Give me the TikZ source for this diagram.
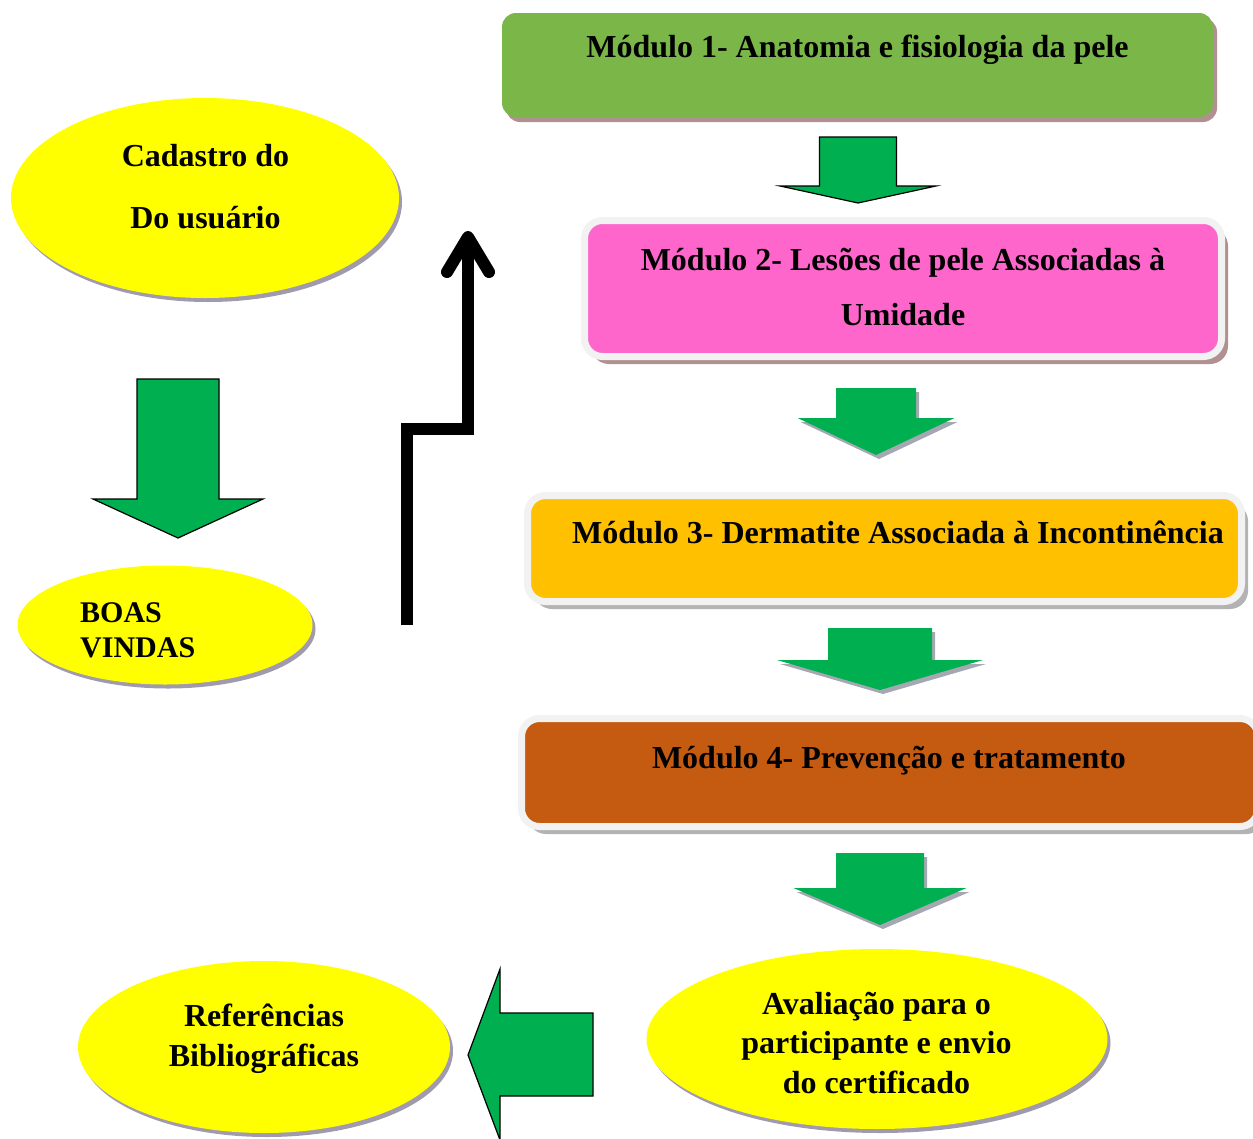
\documentclass[tikz,border=0pt]{standalone}
\usepackage{fontspec}
\setmainfont{Liberation Serif}
\usetikzlibrary{shapes.geometric,shadows}
\definecolor{gmod}{HTML}{7AB648}
\definecolor{pmod}{HTML}{FF66CC}
\definecolor{omod}{HTML}{FFC000}
\definecolor{bmod}{HTML}{C55A11}
\definecolor{agreen}{HTML}{00B050}
\definecolor{yel}{HTML}{FFFF00}
\definecolor{frameC}{HTML}{F2F2F2}
\definecolor{shpink}{HTML}{B09090}
\definecolor{shgray}{HTML}{B3B3B3}
\definecolor{shell}{HTML}{A09AAE}
\definecolor{arrsh}{HTML}{A5A8B2}
\newcommand\blkdown[7]{\path[#1] (#2-#3,#4) -- (#2+#3,#4) -- (#2+#3,#5) -- (#2+#6,#5) -- (#2,#7) -- (#2-#6,#5) -- (#2-#3,#5) -- cycle;}
\tikzset{
  lbl/.style={font=\bfseries\fontsize{32}{40}\selectfont, inner sep=0pt, text=black},
  mbox/.style={rectangle, inner sep=0pt, rounded corners=14pt, draw=none,
    drop shadow={shadow xshift=4pt, shadow yshift=-5pt, fill=shpink, opacity=1}},
  fbox/.style={rectangle, inner sep=0pt, rounded corners=18pt, draw=frameC, line width=7pt,
    drop shadow={shadow xshift=6.5pt, shadow yshift=-7.5pt, fill=#1, opacity=1}},
  yell/.style={ellipse, inner sep=0pt, fill=yel, draw=none,
    drop shadow={shadow xshift=3pt, shadow yshift=-4pt, fill=shell, opacity=1}},
  garrow/.style={fill=agreen, draw=black, line width=1.2pt, line join=miter},
  sarrow/.style={fill=agreen, draw=none,
    drop shadow={shadow xshift=3pt, shadow yshift=-4pt, fill=arrsh, opacity=1}},
  blk/.style={draw=black, line width=12pt, line join=miter}
}
\begin{document}
\begin{tikzpicture}[x=1pt,y=-1pt]
\useasboundingbox (0,0) rectangle (1253,1138);
\clip (0,0) rectangle (1253,1138);

% module boxes
\node[mbox, fill=gmod, minimum width=711pt, minimum height=104pt] (m1) at (857.5,65) {};
\node[fbox=shpink, fill=pmod, minimum width=637pt, minimum height=136pt] (m2) at (903,288.5) {};
\node[fbox=shgray, fill=omod, minimum width=714pt, minimum height=106pt] (m3) at (884.5,548.5) {};
\node[fbox=shgray, fill=bmod, minimum width=736.5pt, minimum height=108pt] (m4) at (889.75,772.5) {};

% ellipses
\node[yell, minimum width=388pt, minimum height=200pt] (cad) at (205,198) {};
\node[yell, minimum width=295pt, minimum height=119pt] (boas) at (165,625) {};
\node[yell, minimum width=372pt, minimum height=172pt] (ref) at (264,1047) {};
\node[yell, minimum width=461pt, minimum height=180pt] (aval) at (877,1039) {};

% block arrows
\blkdown{garrow}{858}{38.5}{137}{186}{78}{203}
\blkdown{sarrow}{876}{40}{388}{418}{78.5}{455}
\blkdown{sarrow}{880}{52}{628}{660}{103}{690}
\blkdown{sarrow}{880}{44}{853}{888}{86.5}{925}
\blkdown{garrow}{178}{41}{379}{499}{85}{538}
\path[garrow] (593,1013) -- (500,1013) -- (500,969) -- (468,1055) -- (500,1140) -- (500,1096) -- (593,1096) -- cycle;

% black step arrow
\coordinate (bs) at (407,625);
\coordinate (bm) at (468,429);
\coordinate (be) at (468,240);
\draw[blk] (bs) |- (bm) -- (be);
\draw[blk, line cap=round, line join=round] (447,272) -- (468,237) -- (489,272);

% texts
\node[lbl, anchor=base] (m1t) at (857.5,57) {Módulo 1- Anatomia e fisiologia da pele};
\node[lbl, anchor=base] (m2t) at (903,270) {\parbox[t]{640pt}{\centering\baselineskip=55pt Módulo 2- Lesões de pele Associadas à\\Umidade}};
\node[lbl, anchor=base] (m3t) at (898,543) {Módulo 3- Dermatite Associada à Incontinência};
\node[lbl, anchor=base] (m4t) at (889,768) {Módulo 4- Prevenção e tratamento};
\node[lbl, anchor=base] (cadt) at (205.5,166) {\parbox[t]{360pt}{\centering\baselineskip=62pt Cadastro do\\Do usuário}};
\node[lbl, font=\bfseries\fontsize{30}{35}\selectfont, anchor=base west] (boast) at (80,622) {\parbox[t]{200pt}{\raggedright\baselineskip=35pt BOAS\\VINDAS}};
\node[lbl, anchor=base] (reft) at (264,1026) {\parbox[t]{340pt}{\centering\baselineskip=40pt Referências\\Bibliográficas}};
\node[lbl, anchor=base] (avalt) at (876.5,1014) {\parbox[t]{420pt}{\centering\baselineskip=39.5pt Avaliação para o\\participante e envio\\do certificado}};
\end{tikzpicture}
\end{document}
